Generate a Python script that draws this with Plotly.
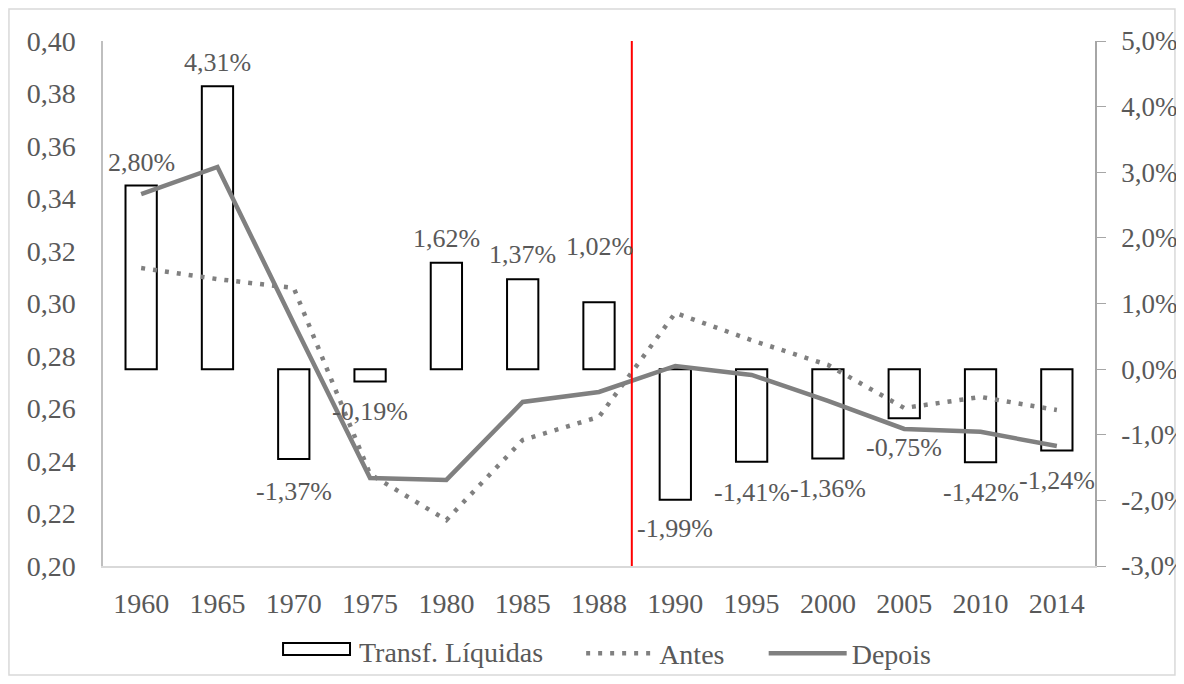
import plotly.graph_objects as go

# data
years = ["1960", "1965", "1970", "1975", "1980", "1985", "1988",
         "1990", "1995", "2000", "2005", "2010", "2014"]
transf_pct = [2.80, 4.31, -1.37, -0.19, 1.62, 1.37, 1.02,
              -1.99, -1.41, -1.36, -0.75, -1.42, -1.24]
antes = [0.3135, 0.3093, 0.3059, 0.2350, 0.2175, 0.2480, 0.2568,
         0.2964, 0.2860, 0.2766, 0.2602, 0.2644, 0.2594]
depois = [0.3417, 0.3520, 0.2924, 0.2335, 0.2328, 0.2625, 0.2663,
          0.2762, 0.2728, 0.2629, 0.2522, 0.2511, 0.2457]
pct_ticks = [-0.03, -0.02, -0.01, 0.0, 0.01, 0.02, 0.03, 0.04, 0.05]
pct_labels = ["-3,0%", "-2,0%", "-1,0%", "0,0%", "1,0%", "2,0%",
              "3,0%", "4,0%", "5,0%"]
bar_name = "Transf. Líquidas"

# label nudges (px, up positive) to mimic the hand-placed excel labels
label_shift = [23, 24, -32, -30, 24, 25, 56, -29, -31, -30, -29, -30, -30]

FONT = "Liberation Serif"
TXT = "#595959"
GRAY = "#808080"

transf = [v / 100 for v in transf_pct]

fig = go.Figure()
fig.add_trace(go.Bar(
    x=years, y=transf, name=bar_name, yaxis="y", showlegend=False,
    marker=dict(color="white", line=dict(color="black", width=2)),
))
fig.add_trace(go.Scatter(
    x=years, y=antes, name="Antes", yaxis="y2", mode="lines",
    legend="legend", line=dict(color=GRAY, width=4.5, dash="4px,8px"),
))
fig.add_trace(go.Scatter(
    x=years, y=depois, name="Depois", yaxis="y2", mode="lines",
    legend="legend2", line=dict(color=GRAY, width=4.5),
))

for i, (v, s) in enumerate(zip(transf_pct, label_shift)):
    fig.add_annotation(
        x=i, y=v / 100, xref="x", yref="y", yshift=s,
        text=f"{v:.2f}%".replace(".", ","), showarrow=False,
        font=dict(family=FONT, size=26, color=TXT),
    )

# legend entry for the bars, drawn as a wide excel-style swatch
fig.add_shape(type="rect", xref="paper", yref="paper",
              x0=0.1815, x1=0.249, y0=-0.1695, y1=-0.1467,
              fillcolor="white", line=dict(color="black", width=2))
fig.add_annotation(x=0.256, y=-0.165, xref="paper", yref="paper",
                   xanchor="left", yanchor="middle", showarrow=False,
                   text=bar_name, font=dict(family=FONT, size=28, color=TXT))

# red divider between 1988 and 1990
fig.add_shape(type="line", xref="x", yref="paper", x0=6.43, x1=6.43,
              y0=0, y1=1, line=dict(color="red", width=2))
# outer chart border
fig.add_shape(type="rect", xref="paper", yref="paper",
              x0=-0.0948, x1=1.0806, y0=-0.2076, y1=1.061,
              line=dict(color="#d9d9d9", width=1.5), layer="below")

leg = dict(orientation="h", xanchor="left", y=-0.167, yanchor="middle",
           font=dict(size=28, color=TXT), bgcolor="rgba(0,0,0,0)")

# the page body adds an 8px offset, so the figure is 8px smaller
fig.update_layout(
    width=1176, height=676,
    margin=dict(l=95, r=89, t=33, b=118, autoexpand=False),
    paper_bgcolor="white", plot_bgcolor="white",
    separators=",.",
    font=dict(family=FONT, size=27, color=TXT),
    bargap=0.59,
    showlegend=True,
    legend=dict(leg, x=0.482, itemwidth=68),
    legend2=dict(leg, x=0.666, itemwidth=78),
    xaxis=dict(type="category", range=[-0.5, 12.5], showgrid=False,
               showline=True, linecolor="#d9d9d9", linewidth=1.5, ticks="",
               automargin=False, ticklabelstandoff=12,
               tickfont=dict(size=28, color=TXT)),
    yaxis=dict(side="right", range=[-0.03, 0.05], tickvals=pct_ticks,
               ticktext=pct_labels, showgrid=False, zeroline=False,
               showline=True, linecolor="#a6a6a6", linewidth=1.5,
               ticks="outside", ticklen=9, tickcolor="#a6a6a6",
               automargin=False, ticklabelstandoff=10,
               tickfont=dict(size=27, color=TXT)),
    yaxis2=dict(side="left", overlaying="y", range=[0.2, 0.4], dtick=0.02,
                tickformat=".2f", showgrid=False, zeroline=False,
                showline=True, linecolor="#bfbfbf", linewidth=1.5,
                ticks="", automargin=False, ticklabelstandoff=20,
                tickfont=dict(size=28, color=TXT)),
)

fig.write_html("out.html")
